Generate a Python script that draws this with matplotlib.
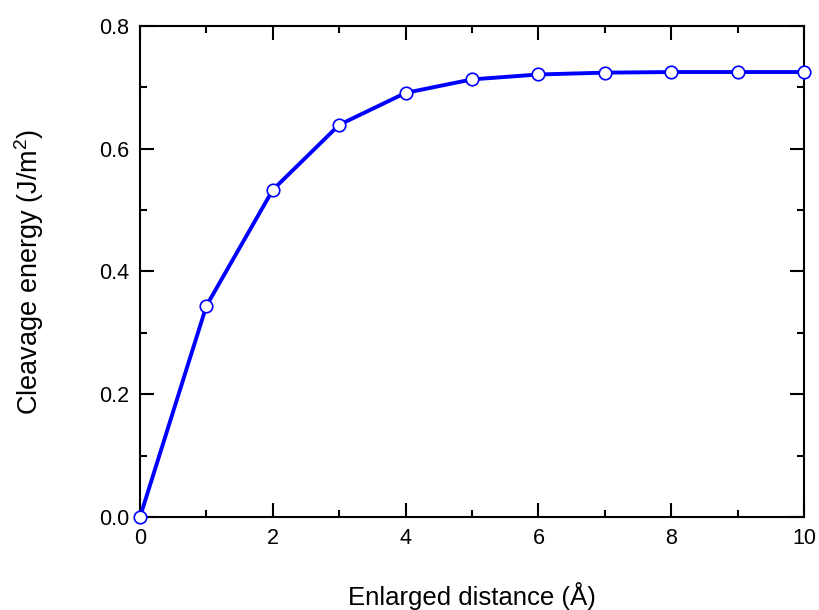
import matplotlib
matplotlib.use("Agg")
import matplotlib.pyplot as plt
from matplotlib.ticker import MultipleLocator

# data
distance = [0, 1, 2, 3, 4, 5, 6, 7, 8, 9, 10]
energy = [0.0, 0.344, 0.533, 0.639, 0.691, 0.713, 0.721, 0.724, 0.725, 0.725, 0.725]

plt.rcParams.update({
    'font.family': ['Liberation Sans', 'DejaVu Sans'],
    'font.size': 13,
    'mathtext.fontset': 'custom',
    'mathtext.rm': 'Liberation Sans',
})

fig = plt.figure(figsize=(8.19, 6.10), dpi=100)
ax = fig.add_axes([140 / 819, 1 - 517 / 610, 664 / 819, 491 / 610])

ax.plot(distance, energy, color='#0000ff', linewidth=2.8, marker='o',
        markersize=9, markerfacecolor='white', markeredgecolor='#0000ff',
        markeredgewidth=1.2, clip_on=False, zorder=3)

ax.set_xlim(0, 10)
ax.set_ylim(0, 0.8)
ax.xaxis.set_major_locator(MultipleLocator(2))
ax.xaxis.set_minor_locator(MultipleLocator(1))
ax.yaxis.set_major_locator(MultipleLocator(0.2))
ax.yaxis.set_minor_locator(MultipleLocator(0.1))
ax.yaxis.set_major_formatter(plt.FuncFormatter(lambda v, p: f'{v:.1f}'))

ax.tick_params(which='both', direction='in', top=True, right=True, width=1.5)
ax.tick_params(which='major', length=10, labelsize=15.5, pad=8)
ax.tick_params(which='minor', length=5)

for spine in ax.spines.values():
    spine.set_linewidth(1.5)

ax.set_xlabel('Enlarged distance (Å)', fontsize=18.5, labelpad=24)
ax.set_ylabel('Cleavage energy (J/m$^2$)', fontsize=19.5, labelpad=38)

fig.savefig('out.png', dpi=100)
